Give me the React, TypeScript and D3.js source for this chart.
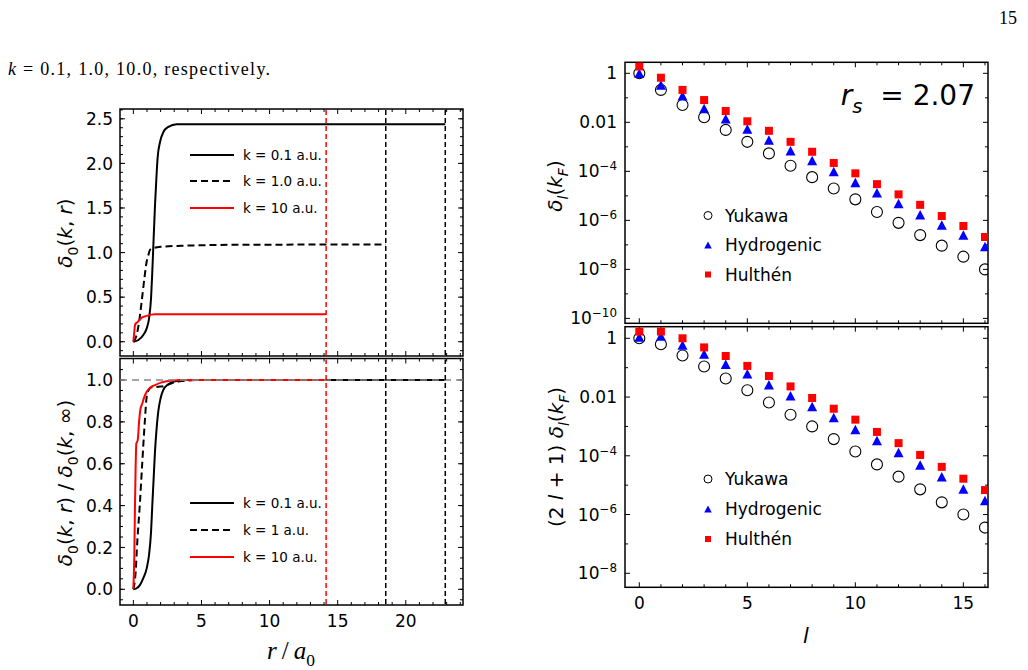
import React, { useEffect, useRef } from "react";
import * as d3 from "d3";

// ---- left panels: delta_0(k, r) vs r / a0 ----
const rK01 = [0, 0.37, 0.73, 0.98, 1.15, 1.3, 1.39, 1.49, 1.59, 1.69, 1.78, 1.96, 2.2, 2.57, 3.18, 22.9];
const dK01 = [0, 0.019, 0.075, 0.15, 0.26, 0.49, 0.78, 1.16, 1.53, 1.83, 2.06, 2.24, 2.35, 2.41, 2.44, 2.44];
const rK1 = [0, 0.24, 0.42, 0.61, 0.81, 0.98, 1.1, 1.22, 1.47, 2.08, 3.55, 5, 8, 18.53];
const dK1 = [0, 0.075, 0.22, 0.45, 0.71, 0.9, 0.97, 1.03, 1.05, 1.065, 1.076, 1.082, 1.088, 1.09];
const rK10 = [0, 0.07, 0.12, 0.22, 0.37, 0.61, 0.98, 1.59, 14.15];
const dK10 = [0, 0.11, 0.19, 0.21, 0.23, 0.27, 0.29, 0.307, 0.307];

// normalised delta_0(k, r) / delta_0(k, inf)
const nrK01 = [0, 0.24, 0.49, 0.73, 0.98, 1.15, 1.3, 1.39, 1.49, 1.59, 1.71, 1.83, 2.0, 2.2, 2.57, 3.06, 4.0, 22.9];
const nK01 = [0, 0.005, 0.021, 0.053, 0.1, 0.164, 0.275, 0.4, 0.53, 0.66, 0.77, 0.85, 0.913, 0.953, 0.98, 0.994, 1.0, 1.0];
const nrK1 = [0, 0.17, 0.29, 0.47, 0.65, 0.84, 0.98, 1.15, 1.34, 1.83, 2.32, 2.81, 3.55, 4.77, 18.53];
const nK1 = [0, 0.084, 0.228, 0.4, 0.6, 0.8, 0.92, 0.955, 0.965, 0.968, 0.972, 0.985, 0.995, 1.0, 1.0];
const nrK10 = [0, 0.07, 0.12, 0.17, 0.22, 0.32, 0.42, 0.51, 0.66, 0.81, 0.98, 1.22, 1.59, 2.08, 2.81, 3.55, 14.15];
const nK10 = [0, 0.164, 0.403, 0.594, 0.697, 0.713, 0.8, 0.857, 0.889, 0.92, 0.944, 0.963, 0.976, 0.989, 0.997, 1.0, 1.0];

// screening radii (vertical dashed lines)
const cutoffR = [14.15, 18.53, 22.9];
const cutoffColor = ["#ff0000", "#000000", "#000000"];

const legendTop = ["k = 0.1 a.u.", "k = 1.0 a.u.", "k = 10 a.u."];
const legendBottom = ["k = 0.1 a.u.", "k = 1 a.u.", "k = 10 a.u."];

// ---- right panels: phase shifts vs l ----
const lValues = [0, 1, 2, 3, 4, 5, 6, 7, 8, 9, 10, 11, 12, 13, 14, 15, 16];
const yukawaTop = [1.0, 0.21, 0.051, 0.016, 0.0049, 0.0016, 5.4e-4, 1.7e-4, 5.8e-5, 2.0e-5, 7.2e-6, 2.2e-6, 7.9e-7, 2.5e-7, 9.3e-8, 3.3e-8, 1.0e-8];
const hydroTop = [1.0, 0.33, 0.12, 0.037, 0.014, 0.0054, 0.0019, 6.9e-4, 2.8e-4, 9.8e-5, 3.5e-5, 1.35e-5, 4.9e-6, 1.7e-6, 6.5e-7, 2.5e-7, 8.5e-8];
const hulthenTop = [1.9, 0.66, 0.21, 0.081, 0.029, 0.011, 0.0045, 0.0016, 6.3e-4, 2.2e-4, 8.3e-5, 3.0e-5, 1.15e-5, 4.3e-6, 1.5e-6, 5.9e-7, 2.1e-7];
const yukawaBot = [1.0, 0.63, 0.26, 0.11, 0.043, 0.017, 0.0065, 0.0025, 0.001, 3.7e-4, 1.4e-4, 5.1e-5, 1.95e-5, 7.2e-6, 2.6e-6, 1.0e-6, 3.6e-7];
const hydroBot = [1.1, 1.2, 0.59, 0.29, 0.13, 0.062, 0.026, 0.011, 0.0048, 0.002, 7.9e-4, 3.3e-4, 1.3e-4, 4.9e-5, 1.95e-5, 7.4e-6, 3.0e-6];
const hulthenBot = [1.7, 1.7, 1.0, 0.49, 0.25, 0.115, 0.052, 0.023, 0.0093, 0.004, 0.0017, 6.5e-4, 2.7e-4, 1.07e-4, 4.2e-5, 1.66e-5, 6.8e-6];
const seriesNames = ["Yukawa", "Hydrogenic", "Hulthén"];

const FONT = "DejaVu Sans";
type Seg = [string, string];

// mathtext-ish tspans: "" normal, "i" italic, "b" subscript, "bi" italic subscript, "p" superscript
function addMath(t: any, segs: Seg[], fs: number) {
  let shift = 0;
  segs.forEach(([s, st]) => {
    const target = st.includes("b") ? fs * 0.28 : st.includes("p") ? -fs * 0.42 : 0;
    t.append("tspan")
      .attr("dy", target - shift)
      .attr("font-size", target !== 0 ? fs * 0.7 : fs)
      .attr("font-style", st.includes("i") ? "italic" : "normal")
      .text(s);
    shift = target;
  });
}

function frame(g: any, x: any, y: any, xt: { major: number[]; minor: number[] }, yt: { major: number[]; minor: number[] }) {
  const [x0, x1] = x.range();
  const [y0, y1] = y.range();
  g.append("rect").attr("x", x0).attr("y", y1).attr("width", x1 - x0).attr("height", y0 - y1)
    .attr("fill", "none").attr("stroke", "#000").attr("stroke-width", 1.5);
  const tick = (v: number, len: number, horiz: boolean) => {
    if (horiz) {
      const p = x(v);
      g.append("line").attr("x1", p).attr("x2", p).attr("y1", y0).attr("y2", y0 - len).attr("stroke", "#000");
      g.append("line").attr("x1", p).attr("x2", p).attr("y1", y1).attr("y2", y1 + len).attr("stroke", "#000");
    } else {
      const p = y(v);
      g.append("line").attr("y1", p).attr("y2", p).attr("x1", x0).attr("x2", x0 + len).attr("stroke", "#000");
      g.append("line").attr("y1", p).attr("y2", p).attr("x1", x1).attr("x2", x1 - len).attr("stroke", "#000");
    }
  };
  xt.minor.forEach((v) => tick(v, 3, true));
  xt.major.forEach((v) => tick(v, 5, true));
  yt.minor.forEach((v) => tick(v, 3, false));
  yt.major.forEach((v) => tick(v, 5, false));
}

function logLabel(t: any, e: number, fs: number) {
  if (e === 0) t.text("1");
  else if (e === -2) t.text("0.01");
  else addMath(t, [["10", ""], ["\u2212" + -e, "p"]], fs);
}

function triPath(cx: number, cy: number, w: number, h: number) {
  return `M${cx},${cy - h / 2}L${cx - w / 2},${cy + h / 2}L${cx + w / 2},${cy + h / 2}Z`;
}

export default function App() {
  const ref = useRef<SVGSVGElement>(null);

  useEffect(() => {
    const svg = d3.select(ref.current);
    svg.selectAll("*").remove();
    const TF = 17;

    // page text
    const head = svg.append("text").attr("x", 8).attr("y", 75).attr("font-family", "Liberation Serif")
      .attr("font-size", 18).attr("textLength", 262).attr("lengthAdjust", "spacing");
    head.append("tspan").attr("font-style", "italic").text("k");
    head.append("tspan").text(" = 0.1, 1.0, 10.0, respectively.");
    svg.append("text").attr("x", 1017).attr("y", 24).attr("text-anchor", "end")
      .attr("font-family", "Liberation Serif").attr("font-size", 18).text("15");

    // ===== left panels =====
    const xL = d3.scaleLinear().domain([-0.98, 24.2]).range([120, 463]);
    const yLT = d3.scaleLinear().domain([-0.16, 2.61]).range([356, 109]);
    const yLB = d3.scaleLinear().domain([-0.075, 1.103]).range([605, 358.5]);
    const xMajorL = [0, 5, 10, 15, 20];
    const xMinorL = d3.range(0, 25).filter((v) => v % 5 !== 0);

    const gl = svg.append("g").attr("font-family", FONT);
    frame(gl, xL, yLT, { major: xMajorL, minor: xMinorL },
      { major: [0, 0.5, 1, 1.5, 2, 2.5], minor: d3.range(-0.1, 2.61, 0.1) });
    frame(gl, xL, yLB, { major: xMajorL, minor: xMinorL },
      { major: [0, 0.2, 0.4, 0.6, 0.8, 1.0], minor: d3.range(-0.05, 1.1, 0.05) });

    [0, 0.5, 1, 1.5, 2, 2.5].forEach((v) =>
      gl.append("text").attr("x", 113).attr("y", yLT(v)).attr("dy", "0.36em").attr("text-anchor", "end")
        .attr("font-size", TF).text(v.toFixed(1)));
    [0, 0.2, 0.4, 0.6, 0.8, 1.0].forEach((v) =>
      gl.append("text").attr("x", 113).attr("y", yLB(v)).attr("dy", "0.36em").attr("text-anchor", "end")
        .attr("font-size", TF).text(v.toFixed(1)));
    xMajorL.forEach((v) =>
      gl.append("text").attr("x", xL(v)).attr("y", 627).attr("text-anchor", "middle").attr("font-size", TF).text(String(v)));

    const styles = [
      { color: "#000", dash: null as string | null },
      { color: "#000", dash: "7,4" },
      { color: "#ff0000", dash: null as string | null },
    ];
    const topSets = [d3.zip(rK01, dK01), d3.zip(rK1, dK1), d3.zip(rK10, dK10)];
    const botSets = [d3.zip(nrK01, nK01), d3.zip(nrK1, nK1), d3.zip(nrK10, nK10)];
    const lineT = d3.line<number[]>().x((d) => xL(d[0])).y((d) => yLT(d[1])).curve(d3.curveMonotoneX);
    const lineB = d3.line<number[]>().x((d) => xL(d[0])).y((d) => yLB(d[1])).curve(d3.curveMonotoneX);

    topSets.forEach((s, i) =>
      gl.append("path").attr("d", lineT(s)).attr("fill", "none").attr("stroke", styles[i].color)
        .attr("stroke-width", 2).attr("stroke-dasharray", styles[i].dash));
    botSets.forEach((s, i) =>
      gl.append("path").attr("d", lineB(s)).attr("fill", "none").attr("stroke", styles[i].color)
        .attr("stroke-width", 2).attr("stroke-dasharray", styles[i].dash));

    // reference line at 1
    gl.append("line").attr("x1", xL.range()[0]).attr("x2", xL.range()[1]).attr("y1", yLB(1)).attr("y2", yLB(1))
      .attr("stroke", "#888").attr("stroke-width", 1.5).attr("stroke-dasharray", "7,5");

    cutoffR.forEach((r, i) => {
      [yLT, yLB].forEach((y) => {
        gl.append("line").attr("x1", xL(r)).attr("x2", xL(r)).attr("y1", y.range()[0] - 1).attr("y2", y.range()[1] + 1)
          .attr("stroke", cutoffColor[i]).attr("stroke-width", 1.5).attr("stroke-dasharray", "5,3");
      });
    });

    const legend = (rows: string[], ys: number[]) => {
      rows.forEach((txt, i) => {
        gl.append("line").attr("x1", 190).attr("x2", 234).attr("y1", ys[i]).attr("y2", ys[i])
          .attr("stroke", styles[i].color).attr("stroke-width", 2).attr("stroke-dasharray", styles[i].dash);
        gl.append("text").attr("x", 243).attr("y", ys[i]).attr("dy", "0.35em").attr("font-size", 13.5).text(txt);
      });
    };
    legend(legendTop, [155, 181, 208]);
    legend(legendBottom, [503, 530, 557]);

    const yl1 = gl.append("text").attr("transform", "translate(67,233) rotate(-90)").attr("text-anchor", "middle").attr("y", 5);
    addMath(yl1, [["δ", "i"], ["0", "b"], ["(", ""], ["k", "i"], [", ", ""], ["r", "i"], [")", ""]], 20);
    const yl2 = gl.append("text").attr("transform", "translate(67,483) rotate(-90)").attr("text-anchor", "middle").attr("y", 5);
    addMath(yl2, [["δ", "i"], ["0", "b"], ["(", ""], ["k", "i"], [", ", ""], ["r", "i"], [") / ", ""], ["δ", "i"], ["0", "b"], ["(", ""], ["k", "i"], [", ∞)", ""]], 20);
    const xlab = gl.append("text").attr("x", 291).attr("y", 659).attr("text-anchor", "middle").attr("font-family", "Liberation Serif");
    addMath(xlab, [["r", "i"], ["\u2009/\u2009", ""], ["a", "i"], ["0", "b"]], 25);

    // ===== right panels =====
    const xR = d3.scaleLinear().domain([-0.662, 16.14]).range([625, 988]);
    const yRT = d3.scaleLog().domain([10 ** -10.2, 10 ** 0.449]).range([323.3, 62.3]);
    const yRB = d3.scaleLog().domain([10 ** -8.477, 10 ** 0.395]).range([587.3, 326.7]);
    const gr = svg.append("g").attr("font-family", FONT);
    const xMajorR = [0, 5, 10, 15];
    const xMinorR = d3.range(0, 17).filter((v) => v % 5 !== 0);
    const decT = d3.range(-10, 1);
    const decB = d3.range(-8, 1);
    frame(gr, xR, yRT, { major: xMajorR, minor: xMinorR },
      { major: decT.filter((e) => e % 2 === 0).map((e) => 10 ** e), minor: decT.filter((e) => e % 2 !== 0).map((e) => 10 ** e) });
    frame(gr, xR, yRB, { major: xMajorR, minor: xMinorR },
      { major: decB.filter((e) => e % 2 === 0).map((e) => 10 ** e), minor: decB.filter((e) => e % 2 !== 0).map((e) => 10 ** e) });

    decT.filter((e) => e % 2 === 0).forEach((e) => {
      const t = gr.append("text").attr("x", 617).attr("y", yRT(10 ** e) + 6).attr("text-anchor", "end").attr("font-size", TF);
      logLabel(t, e, TF);
    });
    decB.filter((e) => e % 2 === 0).forEach((e) => {
      const t = gr.append("text").attr("x", 617).attr("y", yRB(10 ** e) + 6).attr("text-anchor", "end").attr("font-size", TF);
      logLabel(t, e, TF);
    });
    xMajorR.forEach((v) =>
      gr.append("text").attr("x", xR(v)).attr("y", 609).attr("text-anchor", "middle").attr("font-size", TF).text(String(v)));

    const defs = svg.append("defs");
    [["clipRT", yRT], ["clipRB", yRB]].forEach(([id, y]: any) => {
      defs.append("clipPath").attr("id", id).append("rect")
        .attr("x", 625).attr("y", y.range()[1]).attr("width", 363).attr("height", y.range()[0] - y.range()[1]);
    });

    const markers = (y: any, clip: string, yuk: number[], hyd: number[], hul: number[]) => {
      const g = gr.append("g").attr("clip-path", `url(#${clip})`);
      lValues.forEach((l, i) =>
        g.append("circle").attr("cx", xR(l)).attr("cy", y(yuk[i])).attr("r", 5.5)
          .attr("fill", "none").attr("stroke", "#000").attr("stroke-width", 1.1));
      lValues.forEach((l, i) => g.append("path").attr("d", triPath(xR(l), y(hyd[i]), 10, 9.5)).attr("fill", "#0000ff"));
      lValues.forEach((l, i) =>
        g.append("rect").attr("x", xR(l) - 4).attr("y", y(hul[i]) - 4).attr("width", 8).attr("height", 8).attr("fill", "#ff0000"));
    };
    markers(yRT, "clipRT", yukawaTop, hydroTop, hulthenTop);
    markers(yRB, "clipRB", yukawaBot, hydroBot, hulthenBot);

    const rlegend = (ys: number[]) => {
      const mx = 708;
      gr.append("circle").attr("cx", mx).attr("cy", ys[0]).attr("r", 4).attr("fill", "none").attr("stroke", "#000");
      gr.append("path").attr("d", triPath(mx, ys[1], 7.5, 7)).attr("fill", "#0000ff");
      gr.append("rect").attr("x", mx - 3).attr("y", ys[2] - 3).attr("width", 6).attr("height", 6).attr("fill", "#ff0000");
      seriesNames.forEach((n, i) =>
        gr.append("text").attr("x", 725).attr("y", ys[i]).attr("dy", "0.36em").attr("font-size", 17).text(n));
    };
    rlegend([215.5, 245, 274.5]);
    rlegend([479, 509, 539]);

    const rs = gr.append("text").attr("x", 975).attr("y", 105).attr("text-anchor", "end");
    addMath(rs, [["r", "i"], ["s", "bi"], ["\u00a0\u00a0= 2.07", ""]], 28);

    const yr1 = gr.append("text").attr("transform", "translate(557,186) rotate(-90)").attr("text-anchor", "middle").attr("y", 5);
    addMath(yr1, [["δ", "i"], ["l", "bi"], ["(", ""], ["k", "i"], ["F", "bi"], [")", ""]], 20);
    const yr2 = gr.append("text").attr("transform", "translate(558,457) rotate(-90)").attr("text-anchor", "middle").attr("y", 5);
    addMath(yr2, [["(2 ", ""], ["l", "i"], [" + 1) ", ""], ["δ", "i"], ["l", "bi"], ["(", ""], ["k", "i"], ["F", "bi"], [")", ""]], 20);
    gr.append("text").attr("x", 806).attr("y", 643).attr("text-anchor", "middle").attr("font-size", 21)
      .attr("font-style", "italic").text("l");
  }, []);

  return (
    <svg ref={ref} width={1028} height={670}
      style={{ position: "absolute", left: 0, top: 0, background: "#fff" }} />
  );
}
